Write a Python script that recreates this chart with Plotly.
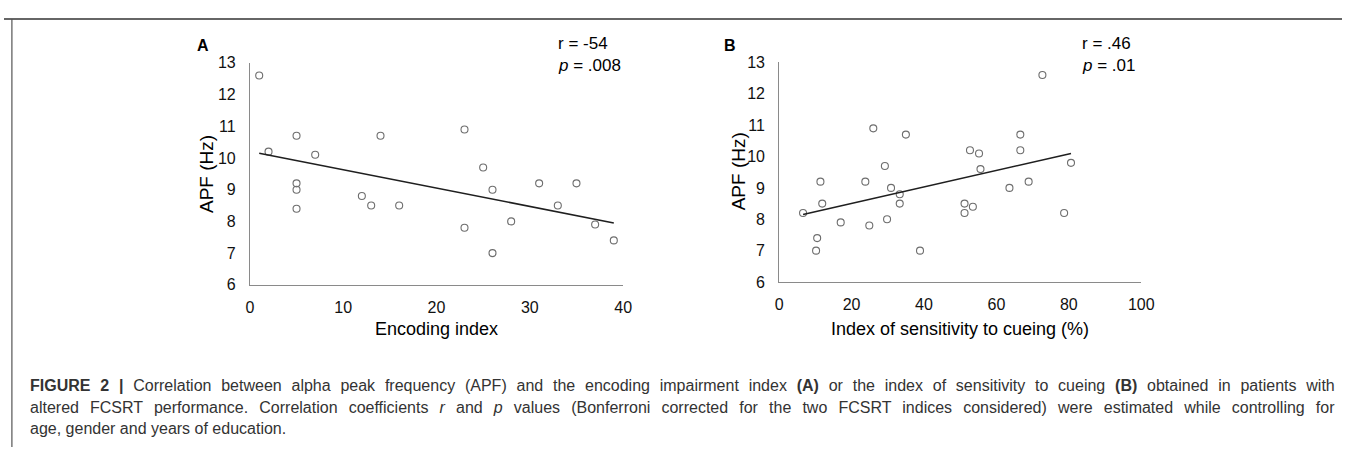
import plotly.graph_objects as go

W, H = 1355, 456

# ---- Data ----
enc_index = [1, 2, 5, 14, 23, 7, 5, 5, 5, 12, 13, 16, 23, 25, 26, 26, 31, 35, 33, 28, 37, 39]
enc_apf = [12.6, 10.2, 10.7, 10.7, 10.9, 10.1, 9.2, 9.0, 8.4, 8.8, 8.5, 8.5, 7.8, 9.7, 9.0, 7.0, 9.2, 9.2, 8.5, 8.0, 7.9, 7.4]
enc_fit_x = [1, 39]
enc_fit_y = [10.15, 7.95]

cue_index = [72.7, 26.0, 35.0, 52.7, 55.2, 66.6, 66.6, 6.6, 11.4, 11.9, 10.5, 10.2, 17.0, 23.8, 24.9,
             29.2, 30.9, 29.8, 33.3, 33.3, 38.9, 51.2, 51.2, 53.5, 55.6, 63.6, 68.9, 78.7, 80.6]
cue_apf = [12.6, 10.9, 10.7, 10.2, 10.1, 10.7, 10.2, 8.2, 9.2, 8.5, 7.4, 7.0, 7.9, 9.2, 7.8,
           9.7, 9.0, 8.0, 8.8, 8.5, 7.0, 8.5, 8.2, 8.4, 9.6, 9.0, 9.2, 8.2, 9.8]
cue_fit_x = [6.6, 80.6]
cue_fit_y = [8.15, 10.1]

y_range = [6, 13]
y_ticks = [6, 7, 8, 9, 10, 11, 12, 13]
xa_ticks = [0, 10, 20, 30, 40]
xb_ticks = [0, 20, 40, 60, 80, 100]

stats_a = ["r = -54", "<i>p</i> = .008"]
stats_b = ["r = .46", "<i>p</i> = .01"]

caption_lines = [
    "<b>FIGURE 2 |</b> Correlation between alpha peak frequency (APF) and the encoding impairment index "
    "<b>(A)</b> or the index of sensitivity to cueing <b>(B)</b> obtained in patients with",
    "altered FCSRT performance. Correlation coefficients <i>r</i> and <i>p</i> values (Bonferroni corrected "
    "for the two FCSRT indices considered) were estimated while controlling for",
    "age, gender and years of education.",
]
# extra word spacing to imitate the justified caption lines
caption_gaps = [" \u2004", " \u2004\u200a", " "]


def px(x):
    return x / W


def py(y):
    return 1 - y / H


FONT = "Liberation Sans, Arial, sans-serif"
marker = dict(symbol="circle-open", size=7, color="#6e6e6e", line=dict(width=1.1, color="#6e6e6e"))
fitline = dict(color="#1f1f1f", width=1.6)

fig = go.Figure()
fig.add_trace(go.Scatter(x=enc_index, y=enc_apf, mode="markers", marker=marker, xaxis="x", yaxis="y",
                         showlegend=False))
fig.add_trace(go.Scatter(x=enc_fit_x, y=enc_fit_y, mode="lines", line=fitline, xaxis="x", yaxis="y",
                         showlegend=False))
fig.add_trace(go.Scatter(x=cue_index, y=cue_apf, mode="markers", marker=marker, xaxis="x2", yaxis="y2",
                         showlegend=False))
fig.add_trace(go.Scatter(x=cue_fit_x, y=cue_fit_y, mode="lines", line=fitline, xaxis="x2", yaxis="y2",
                         showlegend=False))

axis_common = dict(showgrid=False, zeroline=False, showline=True, linecolor="#8a8a8a", linewidth=1,
                   ticks="outside", tickcolor="rgba(0,0,0,0)",
                   tickfont=dict(family=FONT, size=16, color="#111"))

fig.update_layout(
    width=W, height=H,
    margin=dict(l=0, r=0, t=0, b=0),
    paper_bgcolor="white", plot_bgcolor="white",
    xaxis=dict(domain=[px(249), px(627)], range=[0, 40], tickvals=xa_ticks, ticklen=8, anchor="y",
               **axis_common),
    yaxis=dict(domain=[py(287.5), py(57)], range=y_range, tickvals=y_ticks, ticklen=10, anchor="x",
               **axis_common),
    xaxis2=dict(domain=[px(785), px(1151.7)], range=[0, 100], tickvals=xb_ticks, ticklen=8, anchor="y2",
                **axis_common),
    yaxis2=dict(domain=[py(284.6), py(56.6)], range=y_range, tickvals=y_ticks, ticklen=10, anchor="x2",
                **axis_common),
)

ann = []
# panel letters
ann.append(dict(x=px(202), y=py(39), text="<b>A</b>", xanchor="center", yanchor="middle"))
ann.append(dict(x=px(735), y=py(39), text="<b>B</b>", xanchor="center", yanchor="middle"))
for a in ann:
    a.update(xref="paper", yref="paper", showarrow=False, font=dict(family=FONT, size=16, color="#000"))

# stats
for x0, lines in [(559, stats_a), (1090, stats_b)]:
    for i, t in enumerate(lines):
        ann.append(dict(x=px(x0), y=py(37 + 23 * i), text=t, xref="paper", yref="paper", showarrow=False,
                        xanchor="left", yanchor="middle", font=dict(family=FONT, size=17, color="#000")))

# axis titles
ann.append(dict(x=px(205), y=py(172), text="APF (Hz)", textangle=-90, xref="paper", yref="paper",
                showarrow=False, xanchor="center", yanchor="middle", font=dict(family=FONT, size=19, color="#000")))
ann.append(dict(x=px(744), y=py(170), text="APF (Hz)", textangle=-90, xref="paper", yref="paper",
                showarrow=False, xanchor="center", yanchor="middle", font=dict(family=FONT, size=19, color="#000")))
ann.append(dict(x=px(438), y=py(333), text="Encoding index", xref="paper", yref="paper",
                showarrow=False, xanchor="center", yanchor="middle", font=dict(family=FONT, size=18, color="#000")))
ann.append(dict(x=px(968), y=py(333), text="Index of sensitivity to cueing (%)", xref="paper", yref="paper",
                showarrow=False, xanchor="center", yanchor="middle", font=dict(family=FONT, size=18, color="#000")))

# caption
for i, (t, gap) in enumerate(zip(caption_lines, caption_gaps)):
    ann.append(dict(x=px(24), y=py(392 + 22.5 * i), text=t.replace(" ", gap), xref="paper", yref="paper",
                    showarrow=False, xanchor="left", yanchor="middle", align="left",
                    font=dict(family=FONT, size=16, color="#333")))

fig.update_layout(annotations=ann)

# frame lines
fig.add_shape(type="line", xref="paper", yref="paper", x0=0, x1=1, y0=py(11.5), y1=py(11.5),
              line=dict(color="#333", width=1.5))
fig.add_shape(type="line", xref="paper", yref="paper", x0=px(8), x1=px(8), y0=0, y1=py(11.5),
              line=dict(color="#555", width=1.2))

fig.write_html("out.html", config={"displayModeBar": False},
               post_script="document.body.style.margin='0';")
